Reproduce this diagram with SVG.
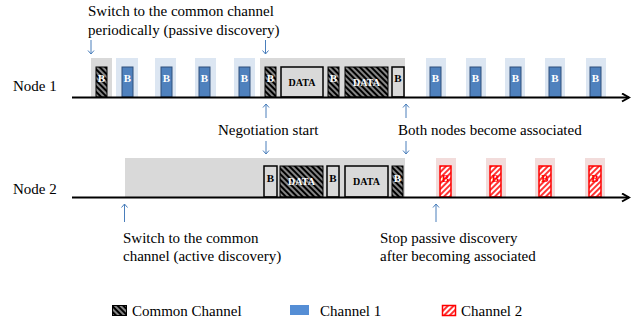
<svg xmlns="http://www.w3.org/2000/svg" width="637" height="320" viewBox="0 0 637 320">
  <style>
    .lbl { font-family: "Liberation Serif", "Times New Roman", serif; font-size: 15px; fill: #000; }
    .bw { font-family: "Liberation Serif", serif; font-size: 11px; font-weight: bold; fill: #fff; text-anchor: middle; }
    .bk { font-family: "Liberation Serif", serif; font-size: 11px; font-weight: bold; fill: #000; text-anchor: middle; }
    .dw { font-family: "Liberation Serif", serif; font-size: 10px; font-weight: bold; fill: #fff; text-anchor: middle; }
    .dk { font-family: "Liberation Serif", serif; font-size: 10px; font-weight: bold; fill: #000; text-anchor: middle; }
    .bg-gray { fill: #d9d9d9; }
    .bg-blue { fill: #dce6f2; }
    .bg-red { fill: #f2dcdb; }
    .cc { fill: url(#hatchBlack); stroke: #000; stroke-width: 1; }
    .ch1 { fill: #4f81bd; stroke: #2f4f7a; stroke-width: 1; }
    .ch2 { fill: url(#hatchRed); stroke: #ff0000; stroke-width: 1.5; }
    .plain { fill: #d9d9d9; stroke: #000; stroke-width: 1.5; }
    .axis { stroke: #000; stroke-width: 2; fill: none; }
    .pt { stroke: #4a7ebb; stroke-width: 1; fill: none; }
  </style>
  <defs>
    <pattern id="hatchBlack" patternUnits="userSpaceOnUse" width="4" height="4" patternTransform="rotate(-45)">
      <rect width="4" height="4" fill="#000"/>
      <line x1="1" y1="0" x2="1" y2="4" stroke="#e0e0e0" stroke-width="1.2"/>
    </pattern>
    <pattern id="hatchRed" patternUnits="userSpaceOnUse" width="4" height="4" patternTransform="rotate(45)">
      <rect width="4" height="4" fill="#ffffff"/>
      <line x1="1" y1="0" x2="1" y2="4" stroke="#ff0000" stroke-width="1.6"/>
    </pattern>
    <marker id="axisHead" markerWidth="10" markerHeight="10" refX="8" refY="5" orient="auto" markerUnits="userSpaceOnUse">
      <path d="M1,1 L8,5 L1,9" fill="none" stroke="#000" stroke-width="2"/>
    </marker>
    <marker id="ptHead" markerWidth="8" markerHeight="8" refX="4" refY="4" orient="auto" markerUnits="userSpaceOnUse">
      <path d="M0.5,1 L4,4 L0.5,7" fill="none" stroke="#4a7ebb" stroke-width="1"/>
    </marker>
  </defs>

  <rect width="637" height="320" fill="#fff"/>

  <!-- Node 1 timeline -->
  <g id="node1">
    <text class="lbl" x="13" y="91">Node 1</text>
    <!-- passive discovery beacon on common channel -->
    <rect class="bg-gray" x="91" y="58" width="21" height="39"/>
    <rect class="cc" x="96" y="67" width="11" height="30"/><text class="bw" x="101.5" y="82">B</text>
    <!-- channel 1 beacons -->
    <rect class="bg-blue" x="116" y="58" width="22" height="39"/>
    <rect class="ch1" x="122" y="67" width="11" height="30"/><text class="bw" x="127.5" y="82">B</text>
    <rect class="bg-blue" x="155" y="58" width="21" height="39"/>
    <rect class="ch1" x="161" y="67" width="11" height="30"/><text class="bw" x="166.5" y="82">B</text>
    <rect class="bg-blue" x="195" y="58" width="21" height="39"/>
    <rect class="ch1" x="199" y="67" width="11" height="30"/><text class="bw" x="204.5" y="82">B</text>
    <rect class="bg-blue" x="234" y="58" width="21" height="39"/>
    <rect class="ch1" x="239" y="67" width="11" height="30"/><text class="bw" x="244.5" y="82">B</text>
    <!-- negotiation exchange on common channel -->
    <rect class="bg-gray" x="260" y="58" width="145" height="39"/>
    <rect class="cc" x="265" y="67" width="11" height="30"/><text class="bw" x="270.5" y="82">B</text>
    <rect class="plain" x="281" y="67" width="42" height="30"/><text class="dk" x="302" y="86">DATA</text>
    <rect class="cc" x="328" y="67" width="11" height="30"/><text class="bw" x="333.5" y="82">B</text>
    <rect class="cc" x="345" y="67" width="43" height="30"/><text class="dw" x="366.5" y="86">DATA</text>
    <rect class="plain" x="392" y="67" width="12" height="30"/><text class="bk" x="398" y="82">B</text>
    <!-- channel 1 beacons after association -->
    <rect class="bg-blue" x="426" y="58" width="20" height="39"/>
    <rect class="ch1" x="430" y="67" width="11" height="30"/><text class="bw" x="435.5" y="82">B</text>
    <rect class="bg-blue" x="466" y="58" width="20" height="39"/>
    <rect class="ch1" x="470" y="67" width="11" height="30"/><text class="bw" x="475.5" y="82">B</text>
    <rect class="bg-blue" x="505" y="58" width="20" height="39"/>
    <rect class="ch1" x="510" y="67" width="11" height="30"/><text class="bw" x="515.5" y="82">B</text>
    <rect class="bg-blue" x="545" y="58" width="20" height="39"/>
    <rect class="ch1" x="549" y="67" width="12" height="30"/><text class="bw" x="555" y="82">B</text>
    <rect class="bg-blue" x="586" y="58" width="20" height="39"/>
    <rect class="ch1" x="590" y="67" width="11" height="30"/><text class="bw" x="595.5" y="82">B</text>
  </g>

  <!-- Node 2 timeline -->
  <g id="node2">
    <text class="lbl" x="13" y="194">Node 2</text>
    <!-- active discovery on common channel -->
    <rect class="bg-gray" x="125" y="158" width="280" height="39"/>
    <rect class="plain" x="264" y="166" width="13" height="31"/><text class="bk" x="270.5" y="182">B</text>
    <rect class="cc" x="280" y="166" width="43" height="31"/><text class="dw" x="301.5" y="185">DATA</text>
    <rect class="plain" x="327" y="166" width="12" height="31"/><text class="bk" x="333" y="182">B</text>
    <rect class="plain" x="345" y="166" width="43" height="31"/><text class="dk" x="366.5" y="185">DATA</text>
    <rect class="cc" x="392" y="166" width="11" height="31"/><text class="bw" x="397.5" y="182">B</text>
    <!-- channel 2 beacons after association -->
    <rect class="bg-red" x="436" y="158" width="20" height="39"/>
    <rect class="ch2" x="440" y="166" width="11" height="31"/><text class="bk" x="445.5" y="182" fill="#ff0000" style="fill:#ff0000">B</text>
    <rect class="bg-red" x="486" y="158" width="20" height="39"/>
    <rect class="ch2" x="490" y="166" width="11" height="31"/><text class="bk" x="495.5" y="182" style="fill:#ff0000">B</text>
    <rect class="bg-red" x="535" y="158" width="20" height="39"/>
    <rect class="ch2" x="539" y="166" width="12" height="31"/><text class="bk" x="545" y="182" style="fill:#ff0000">B</text>
    <rect class="bg-red" x="585" y="158" width="20" height="39"/>
    <rect class="ch2" x="589" y="166" width="12" height="31"/><text class="bk" x="595" y="182" style="fill:#ff0000">B</text>
  </g>

  <!-- time axes and pointer arrows -->
  <g id="connectors">
    <line class="axis" x1="72" y1="97.5" x2="629" y2="97.5" marker-end="url(#axisHead)"/>
    <line class="axis" x1="72" y1="197.5" x2="629" y2="197.5" marker-end="url(#axisHead)"/>
    <line class="pt" x1="91" y1="40" x2="91" y2="54" marker-end="url(#ptHead)"/>
    <line class="pt" x1="265.5" y1="40" x2="265.5" y2="54" marker-end="url(#ptHead)"/>
    <line class="pt" x1="266" y1="118" x2="266" y2="104" marker-end="url(#ptHead)"/>
    <line class="pt" x1="266" y1="141" x2="266" y2="154" marker-end="url(#ptHead)"/>
    <line class="pt" x1="406" y1="118" x2="406" y2="104" marker-end="url(#ptHead)"/>
    <line class="pt" x1="406" y1="141" x2="406" y2="154" marker-end="url(#ptHead)"/>
    <line class="pt" x1="124.5" y1="222" x2="124.5" y2="204" marker-end="url(#ptHead)"/>
    <line class="pt" x1="436" y1="222" x2="436" y2="204" marker-end="url(#ptHead)"/>
  </g>

  <!-- annotations -->
  <g id="notes">
    <text class="lbl" x="88" y="16">Switch to the common channel</text>
    <text class="lbl" x="88" y="35">periodically (passive discovery)</text>
    <text class="lbl" x="218" y="135">Negotiation start</text>
    <text class="lbl" x="398" y="135">Both nodes become associated</text>
    <text class="lbl" x="123" y="243">Switch to the common</text>
    <text class="lbl" x="123" y="261">channel (active discovery)</text>
    <text class="lbl" x="380" y="243">Stop passive discovery</text>
    <text class="lbl" x="380" y="261">after becoming associated</text>
  </g>

  <!-- legend -->
  <g id="legend">
    <rect class="cc" x="112.5" y="305.5" width="14" height="10"/>
    <text class="lbl" x="132" y="316">Common Channel</text>
    <rect x="290" y="305" width="19" height="10" fill="#558ed5"/>
    <text class="lbl" x="320" y="316">Channel 1</text>
    <rect class="ch2" x="442.5" y="305.5" width="13" height="10"/>
    <text class="lbl" x="461" y="316">Channel 2</text>
  </g>
</svg>
